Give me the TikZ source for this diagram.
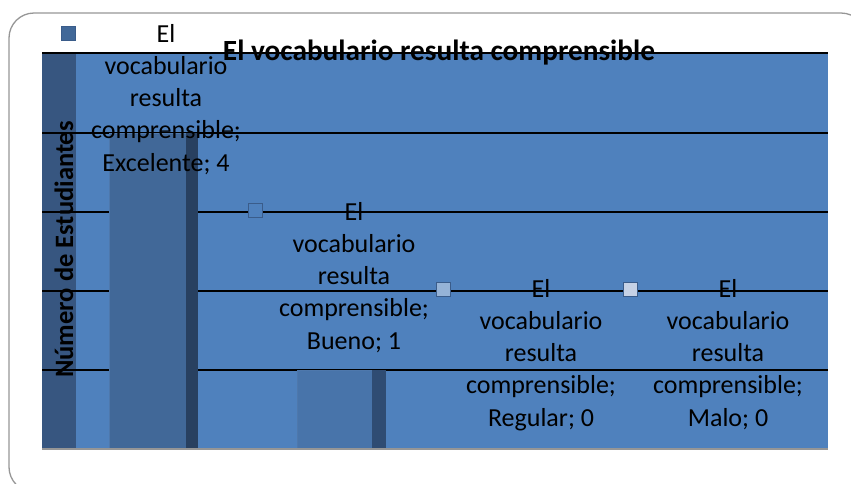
\documentclass[tikz,border=0pt]{standalone}
\usepackage{fontspec}
\setmainfont{Carlito}
\definecolor{plotbg}{RGB}{79,129,189}
\definecolor{wall}{RGB}{55,86,128}
\definecolor{barone}{RGB}{65,104,152}
\definecolor{bartwo}{RGB}{72,116,170}
\definecolor{baredge}{RGB}{78,120,172}
\definecolor{sideone}{RGB}{40,64,96}
\definecolor{sidetwo}{RGB}{47,76,115}
\definecolor{mkone}{RGB}{65,104,152}
\definecolor{mktwo}{RGB}{79,129,189}
\definecolor{mkthree}{RGB}{149,179,215}
\definecolor{mkfour}{RGB}{198,210,230}
\definecolor{mkedge}{RGB}{58,92,138}
\definecolor{framegray}{RGB}{150,150,150}
\definecolor{floorgray}{RGB}{150,150,150}
\begin{document}
\begin{tikzpicture}[x=1pt,y=-1pt,
  grid/.style={black,line width=1.3pt},
  lab/.style={align=center,inner sep=0pt,font=\fontsize{26}{32.3}\selectfont,anchor=base},
  mk/.style={draw=mkedge,line width=1pt,minimum size=14pt,inner sep=0pt},
  ]
\useasboundingbox (0,0) rectangle (851,483);
\clip (0,0) rectangle (851,483);
% plot area
\fill[plotbg] (42,53) rectangle (828,449);
\fill[wall] (42,53) rectangle (76,449);
% gridlines
\foreach \yy in {53,133,212,291,370} \draw[grid] (42,\yy) -- (828,\yy);
% bars
\fill[barone,draw=baredge,line width=0.8pt] (109,133) rectangle (186,449);
\fill[sideone] (186,133) rectangle (198,449);
\fill[bartwo,draw=baredge,line width=0.8pt] (297,370) rectangle (372,449);
\fill[sidetwo] (372,370) rectangle (386,449);
% floor
\draw[floorgray,line width=2pt] (42,449) -- (828,449);
% markers
\node[mk,fill=mkone] (m1) at (68,33) {};
\node[mk,fill=mktwo] (m2) at (255,210) {};
\node[mk,fill=mkthree] (m3) at (443.5,289.5) {};
\node[mk,fill=mkfour] (m4) at (630.5,289.5) {};
% labels (anchored at the baseline of their last line)
\node[lab] (l1) at (166,171.2) {El\\vocabulario\\resulta\\comprensible;\\Excelente; 4};
\node[lab] (l2) at (354,349.2) {El\\vocabulario\\resulta\\comprensible;\\Bueno; 1};
\node[lab] (l3) at (541,426.2) {El\\vocabulario\\resulta\\comprensible;\\Regular; 0};
\node[lab] (l4) at (728,426.2) {El\\vocabulario\\resulta\\comprensible;\\Malo; 0};
% titles
\node[inner sep=0pt,anchor=base,font=\fontsize{29.3}{34}\selectfont\bfseries] (title) at (439,60) {El vocabulario resulta comprensible};
\node[inner sep=0pt,anchor=base,rotate=90,font=\fontsize{26.5}{30}\selectfont\bfseries] (ytitle) at (73,249.5) {Número de Estudiantes};
% frame
\draw[framegray,line width=1.3pt,rounded corners=25pt] (9,13) rectangle (866,492);
\end{tikzpicture}
\end{document}
